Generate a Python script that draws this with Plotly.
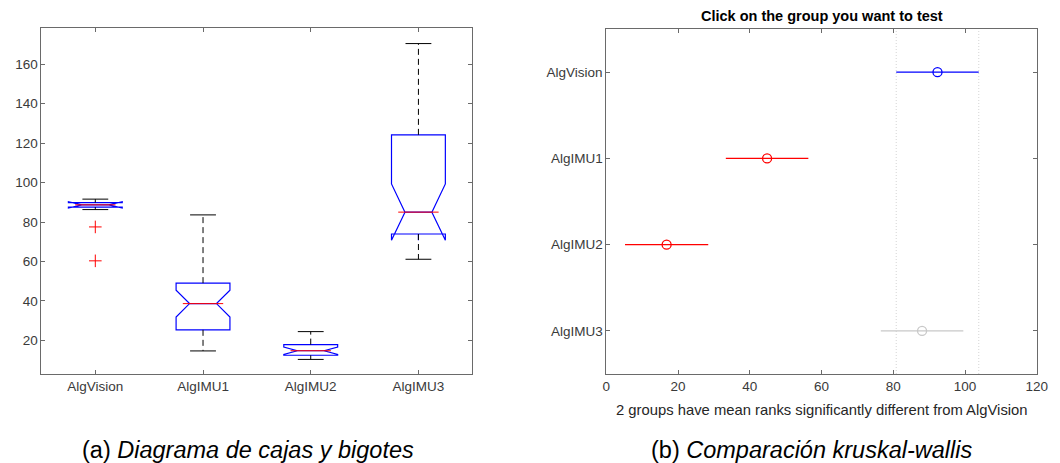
import plotly.graph_objects as go

# ---------------- data ----------------
groups = ["AlgVision", "AlgIMU1", "AlgIMU2", "AlgIMU3"]
positions = [1, 2, 3, 4]

# (a) box plot statistics
q1_vals = [87.5, 25.3, 12.4, 73.9]
median_vals = [88.7, 38.6, 14.7, 85.0]
q3_vals = [89.85, 49.0, 17.8, 124.2]
lower_whisker = [86.3, 14.6, 10.3, 61.1]
upper_whisker = [91.6, 83.6, 24.4, 170.5]
notch_span = [1.6, 6.8, 1.9, 14.3]
outlier_x = [1, 1]
outlier_y = [77.5, 60.3]

# (b) kruskal-wallis multiple comparison (mean ranks with intervals)
mean_ranks = [92.3, 44.8, 16.8, 88.0]
rank_lo = [80.8, 33.3, 5.2, 76.5]
rank_hi = [103.8, 56.3, 28.4, 99.5]
rank_colors = ["#0000ff", "#ff0000", "#ff0000", "#c8c8c8"]

left_yticks = [20, 40, 60, 80, 100, 120, 140, 160]
right_xticks = [0, 20, 40, 60, 80, 100, 120]

title_b = "Click on the group you want to test"
xlabel_b = "2 groups have mean ranks significantly different from AlgVision"
caption_a = "(a) <i>Diagrama de cajas y bigotes</i>"
caption_b = "(b) <i>Comparación kruskal-wallis</i>"

# ---------------- styles ----------------
W, H = 1060, 463
FONT = "Liberation Sans, Arial, sans-serif"
AX_COLOR = "#6a6a6a"
TXT_COLOR = "#3a3a3a"
BOX_W = 0.5
CAP_HALF = 0.12
MED_HALF = BOX_W / 2 * 0.75

fig = go.Figure()

# ---- (a) boxes ----
for i, g in enumerate(groups):
    p = positions[i]
    # whiskers (dashed black)
    fig.add_trace(go.Scatter(
        x=[p, p, None, p, p], y=[q3_vals[i], upper_whisker[i], None, q1_vals[i], lower_whisker[i]],
        mode="lines", line=dict(color="black", width=1, dash="6px,4px"),
        xaxis="x", yaxis="y", showlegend=False, hoverinfo="skip"))
    # caps (solid black)
    fig.add_trace(go.Scatter(
        x=[p - CAP_HALF, p + CAP_HALF, None, p - CAP_HALF, p + CAP_HALF],
        y=[upper_whisker[i], upper_whisker[i], None, lower_whisker[i], lower_whisker[i]],
        mode="lines", line=dict(color="black", width=1),
        xaxis="x", yaxis="y", showlegend=False, hoverinfo="skip"))
    # notched box
    fig.add_trace(go.Box(
        x=[p], q1=[q1_vals[i]], median=[median_vals[i]], q3=[q3_vals[i]],
        lowerfence=[q1_vals[i]], upperfence=[q3_vals[i]],
        notched=True, notchspan=[notch_span[i]], notchwidth=0.25,
        width=BOX_W, whiskerwidth=0, boxpoints=False,
        line=dict(color="#0000ff", width=1.2), fillcolor="rgba(0,0,0,0)",
        xaxis="x", yaxis="y", showlegend=False, name=g))
    # median (red)
    fig.add_trace(go.Scatter(
        x=[p - MED_HALF, p + MED_HALF], y=[median_vals[i], median_vals[i]],
        mode="lines", line=dict(color="#ff0000", width=1),
        xaxis="x", yaxis="y", showlegend=False, hoverinfo="skip"))

# outliers
fig.add_trace(go.Scatter(
    x=outlier_x, y=outlier_y, mode="markers",
    marker=dict(symbol="cross-thin-open", size=9, color="#ff0000",
                line=dict(color="#ff0000", width=1)),
    xaxis="x", yaxis="y", showlegend=False))

# ---- (b) comparison intervals ----
n = len(groups)
for i, g in enumerate(groups):
    yv = n - i
    fig.add_trace(go.Scatter(
        x=[rank_lo[i], rank_hi[i]], y=[yv, yv], mode="lines",
        line=dict(color=rank_colors[i], width=1.1),
        xaxis="x2", yaxis="y2", showlegend=False, hoverinfo="skip"))
    fig.add_trace(go.Scatter(
        x=[mean_ranks[i]], y=[yv], mode="markers",
        marker=dict(symbol="circle-open", size=9, color=rank_colors[i],
                    line=dict(color=rank_colors[i], width=1.3)),
        xaxis="x2", yaxis="y2", showlegend=False))

# dotted reference lines from AlgVision interval
for xv in (rank_lo[0], rank_hi[0]):
    fig.add_shape(type="line", xref="x2", yref="y2 domain", x0=xv, x1=xv, y0=0, y1=1,
                  line=dict(color="#d4d4d4", width=1, dash="1px,2px"), layer="below")

# ---------------- layout ----------------
def px_x(v):
    return v / W

def px_y(v):
    return 1 - v / H

axis_common = dict(showline=True, linecolor=AX_COLOR, linewidth=1, mirror="ticks",
                   ticks="inside", ticklen=4, tickcolor=AX_COLOR, showgrid=False,
                   zeroline=False, tickfont=dict(family=FONT, size=13.5, color=TXT_COLOR))

fig.update_layout(
    width=W, height=H, autosize=False,
    margin=dict(l=0, r=0, t=0, b=0),
    paper_bgcolor="white", plot_bgcolor="white",
    font=dict(family=FONT, color=TXT_COLOR),
    boxmode="overlay",
    xaxis=dict(domain=[px_x(38), px_x(475)], range=[0.5, 4.5],
               tickvals=positions, ticktext=groups, anchor="y", **axis_common),
    yaxis=dict(domain=[px_y(374), px_y(28)], range=[2.9, 178.4],
               tickvals=left_yticks, anchor="x", **axis_common),
    xaxis2=dict(domain=[px_x(611), px_x(1047.7)], range=[0, 120],
                tickvals=right_xticks, anchor="y2", **axis_common),
    yaxis2=dict(domain=[px_y(374), px_y(29)], range=[0.5, 4.5],
                tickvals=[n - i for i in range(n)], ticktext=groups, anchor="x2",
                **axis_common),
    annotations=[
        dict(text="<b>" + title_b + "</b>", x=px_x(829.5), y=px_y(16), xref="paper", yref="paper",
             showarrow=False, xanchor="center", yanchor="middle",
             font=dict(family=FONT, size=14.5, color="black")),
        dict(text=xlabel_b, x=px_x(829.5), y=px_y(410), xref="paper", yref="paper",
             showarrow=False, xanchor="center", yanchor="middle",
             font=dict(family=FONT, size=14.8, color="#262626")),
        dict(text=caption_a, x=px_x(247), y=px_y(450), xref="paper", yref="paper",
             showarrow=False, xanchor="center", yanchor="middle",
             font=dict(family=FONT, size=23.5, color="black")),
        dict(text=caption_b, x=px_x(820), y=px_y(450), xref="paper", yref="paper",
             showarrow=False, xanchor="center", yanchor="middle",
             font=dict(family=FONT, size=23.5, color="black")),
    ],
)

fig.write_html(
    "out.html",
    config={"displayModeBar": False},
    post_script="document.body.style.margin='0px';document.body.style.overflow='hidden';",
)
